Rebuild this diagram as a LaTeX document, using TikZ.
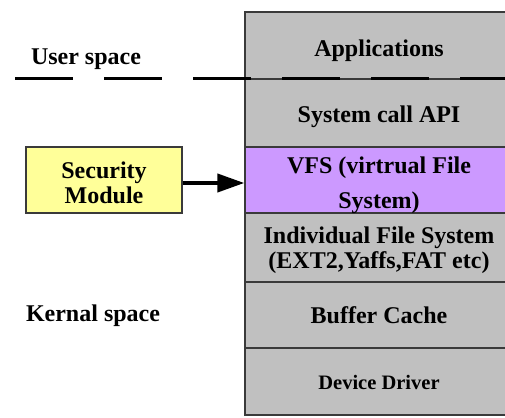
\documentclass[tikz,border=0pt]{standalone}
\usepackage{fontspec}
\setmainfont{Liberation Serif}
\usetikzlibrary{arrows.meta}
\definecolor{layergray}{HTML}{C0C0C0}
\definecolor{vfspurple}{HTML}{CC99FF}
\definecolor{secyellow}{HTML}{FFFF99}
\definecolor{edgegray}{HTML}{3A3A3A}
\tikzset{
  layer/.style={draw=edgegray, line width=1.3pt, fill=layergray, minimum width=268pt, inner sep=0pt},
  caption/.style={inner sep=0pt, align=center, font=\bfseries\fontsize{24}{25}\selectfont},
  boundary/.style={line width=3pt, dash pattern=on 58pt off 31pt},
}
\begin{document}
\begin{tikzpicture}[x=1pt,y=-1pt]
\useasboundingbox (0,0) rectangle (505,417);
\begin{scope}
\clip (0,0) rectangle (505,417);
% kernel stack, top to bottom
\node[layer, minimum height=67pt] (app) at (379,45.5) {};
\node[layer, minimum height=68pt] (sys) at (379,113) {};
\node[layer, minimum height=66pt, fill=vfspurple] (vfs) at (379,180) {};
\node[layer, minimum height=69pt] (ifs) at (379,247.5) {};
\node[layer, minimum height=66pt] (buf) at (379,315) {};
\node[layer, minimum height=67pt] (dev) at (379,381.5) {};
% user / kernel boundary
\coordinate (bl) at (15,79);
\coordinate (br) at (520,79);
\draw[boundary] (bl) -- (br);
\end{scope}
% layer captions
\node[caption] (app-t) at ([yshift=-5pt]app.center) {Applications};
\node[caption] (sys-t) at ([yshift=-4pt]sys.center) {System call API};
\node[caption, font=\bfseries\fontsize{24}{35}\selectfont] (vfs-t) at ([yshift=-5pt]vfs.center) {VFS (virtrual File\\System)};
\node[caption] (ifs-t) at ([yshift=-3pt]ifs.center) {Individual File System\\(EXT2,Yaffs,FAT etc)};
\node[caption] (buf-t) at (buf.center) {Buffer Cache};
\node[caption, font=\bfseries\fontsize{20.5}{24}\selectfont] (dev-t) at ([yshift=-1pt]dev.center) {Device Driver};
% side labels
\node[caption] (user) at (86,59) {User space};
\node[caption] (kern) at (93,316) {Kernal space};
% security module hooked into the VFS
\node[draw=edgegray, line width=1.3pt, fill=secyellow, minimum width=156pt, minimum height=66pt] (sec) at (104,180) {};
\node[caption] (sec-t) at ([yshift=-3pt]sec.center) {Security\\Module};
\draw[line width=4pt, -{Triangle[length=27pt,width=18pt]}] (sec.east |- 0,183) -- (vfs.west |- 0,183);
\end{tikzpicture}
\end{document}
